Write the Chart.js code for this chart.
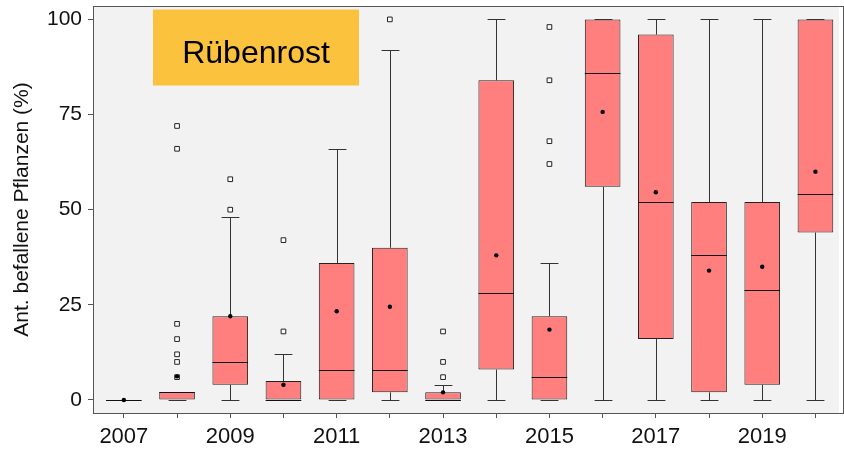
<!DOCTYPE html>
<html>
<head>
<meta charset="utf-8">
<script src="https://cdn.jsdelivr.net/npm/chart.js@4"></script>
<style>
  html, body { margin: 0; padding: 0; background: #fff; }
  #wrap { width: 844px; height: 449px; }
</style>
</head>
<body>
<div id="wrap"><canvas id="chart"></canvas></div>
<script>
// Boxplot data per year (Anteil befallene Pflanzen in %)
const years = [2007, 2008, 2009, 2010, 2011, 2012, 2013, 2014, 2015, 2016, 2017, 2018, 2019, 2020];
const q1 = [0, 0, 4, 0, 0, 2, 0, 8, 0, 56, 16, 2, 4, 44];
const medians = [0, 2, 10, 0, 8, 8, 0, 28, 6, 86, 52, 38, 29, 54];
const q3 = [0, 2, 22, 5, 36, 40, 2, 84, 22, 100, 96, 52, 52, 100];
const whiskerLow = [0, 0, 0, 0, 0, 0, 0, 0, 0, 0, 0, 0, 0, 0];
const whiskerHigh = [0, 2, 48, 12, 66, 92, 4, 100, 36, 100, 100, 100, 100, 100];
const means = [0, 6.2, 22, 4, 23.3, 24.5, 2, 38, 18.5, 75.7, 54.6, 34, 35, 60];
const outlierYears = [2008, 2008, 2008, 2008, 2008, 2008, 2008, 2009, 2009, 2010, 2010, 2012, 2013, 2013, 2013, 2015, 2015, 2015, 2015];
const outlierValues = [72, 66, 20, 16, 12, 10, 6, 58, 50, 42, 18, 100, 18, 10, 6, 98, 84, 68, 62];
const yTicks = [0, 25, 50, 75, 100];
const titleText = "Rübenrost";

const FONT = "'Liberation Sans', Arial, sans-serif";

// panel background + border
const panelPlugin = {
    id: "panel",
    beforeDraw(chart) {
        const { ctx, chartArea: a } = chart;
        ctx.save();
        ctx.fillStyle = "#f2f2f2";
        ctx.fillRect(a.left, a.top, a.right - a.left, a.bottom - a.top);
        ctx.restore();
    },
    beforeDatasetsDraw(chart) {
        // title label box in the upper left of the panel
        const { ctx, chartArea: a } = chart;
        ctx.save();
        ctx.fillStyle = "#fbc23e";
        ctx.fillRect(a.left + 60, a.top + 3.5, 206, 76);
        ctx.fillStyle = "#000";
        ctx.font = "32px " + FONT;
        ctx.textAlign = "center";
        ctx.textBaseline = "middle";
        ctx.fillText(titleText, a.left + 163, a.top + 48);
        ctx.restore();
    },
    afterDraw(chart) {
        const { ctx, chartArea: a } = chart;
        ctx.save();
        ctx.strokeStyle = "#555";
        ctx.lineWidth = 1;
        ctx.strokeRect(a.left + 0.5, a.top + 0.5, a.right - a.left + 4, a.bottom - a.top);
        ctx.restore();
    }
};

// whiskers and median lines, drawn right after the boxes
const boxPlugin = {
    id: "boxParts",
    afterDatasetDraw(chart, args) {
        if (args.index !== 0) return;
        const { ctx } = chart;
        const yScale = chart.scales.y;
        const bars = chart.getDatasetMeta(0).data;
        ctx.save();
        ctx.lineWidth = 1;
        years.forEach((yr, i) => {
            const bar = bars[i];
            const cx = Math.round(bar.x) + 0.5;
            const half = bar.width / 2;
            const cap = bar.width / 4;
            const yLo = Math.round(yScale.getPixelForValue(whiskerLow[i])) + 0.5;
            const yHi = Math.round(yScale.getPixelForValue(whiskerHigh[i])) + 0.5;
            const yQ1 = yScale.getPixelForValue(q1[i]);
            const yQ3 = yScale.getPixelForValue(q3[i]);
            ctx.strokeStyle = "#333";
            ctx.beginPath();
            ctx.moveTo(cx, yQ3); ctx.lineTo(cx, yHi);
            ctx.moveTo(cx - cap, yHi); ctx.lineTo(cx + cap, yHi);
            ctx.moveTo(cx, yQ1); ctx.lineTo(cx, yLo);
            ctx.moveTo(cx - cap, yLo); ctx.lineTo(cx + cap, yLo);
            ctx.stroke();
            const yMed = Math.round(yScale.getPixelForValue(medians[i])) + 0.5;
            ctx.strokeStyle = "#111";
            ctx.beginPath();
            ctx.moveTo(bar.x - half, yMed); ctx.lineTo(bar.x + half, yMed);
            ctx.stroke();
        });
        ctx.restore();
    }
};

const ctx = document.getElementById("chart").getContext("2d");
new Chart(ctx, {
    type: "bar",
    data: {
        datasets: [
            {
                type: "bar",
                label: "Box",
                order: 3,
                data: years.map((yr, i) => ({ x: yr, y: [q1[i], q3[i]] })),
                backgroundColor: "#ff7f7f",
                borderColor: "#222",
                borderWidth: 1,
                borderSkipped: false,
                categoryPercentage: 1,
                barPercentage: 0.67
            },
            {
                type: "scatter",
                label: "Ausreißer",
                order: 2,
                data: outlierYears.map((yr, i) => ({ x: yr, y: outlierValues[i] })),
                pointStyle: "rect",
                pointRadius: 3.3,
                backgroundColor: "#fff",
                borderColor: "#222",
                borderWidth: 1
            },
            {
                type: "scatter",
                label: "Mittelwert",
                order: 1,
                data: years.map((yr, i) => ({ x: yr, y: means[i] })),
                pointStyle: "circle",
                pointRadius: 2.2,
                backgroundColor: "#000",
                borderColor: "#000",
                borderWidth: 0
            }
        ]
    },
    options: {
        responsive: true,
        maintainAspectRatio: false,
        animation: false,
        layout: { padding: { top: 6, right: 0, left: 0, bottom: 0 } },
        plugins: {
            legend: { display: false },
            tooltip: { enabled: false }
        },
        scales: {
            x: {
                type: "linear",
                offset: false,
                min: 2006.42,
                max: 2020.443,
                afterBuildTicks: scale => { scale.ticks = years.map(v => ({ value: v })); },
                afterFit: scale => {
                    scale.height = 36;
                    scale.paddingLeft = 0;
                    scale.paddingRight = 0;
                },
                grid: { drawOnChartArea: false, drawTicks: true, tickLength: 5, color: "#555", offset: false },
                border: { display: false },
                ticks: {
                    autoSkip: false,
                    maxRotation: 0,
                    padding: 6,
                    color: "#111",
                    font: { family: FONT, size: 22 },
                    callback: v => (v % 2 === 1 ? String(v) : "")
                }
            },
            y: {
                min: -3.42,
                max: 103.52,
                afterBuildTicks: scale => { scale.ticks = yTicks.map(v => ({ value: v })); },
                afterFit: scale => {
                    scale.width = 93;
                    scale.paddingTop = 0;
                    scale.paddingBottom = 0;
                },
                grid: { drawOnChartArea: false, drawTicks: true, tickLength: 5, color: "#555" },
                border: { display: false },
                ticks: {
                    padding: 6,
                    color: "#111",
                    font: { family: FONT, size: 21 }
                },
                title: {
                    display: true,
                    text: "Ant. befallene Pflanzen (%)",
                    color: "#111",
                    font: { family: FONT, size: 21 },
                    padding: { top: 10, bottom: 0 }
                }
            }
        }
    },
    plugins: [panelPlugin, boxPlugin]
});
</script>
</body>
</html>
